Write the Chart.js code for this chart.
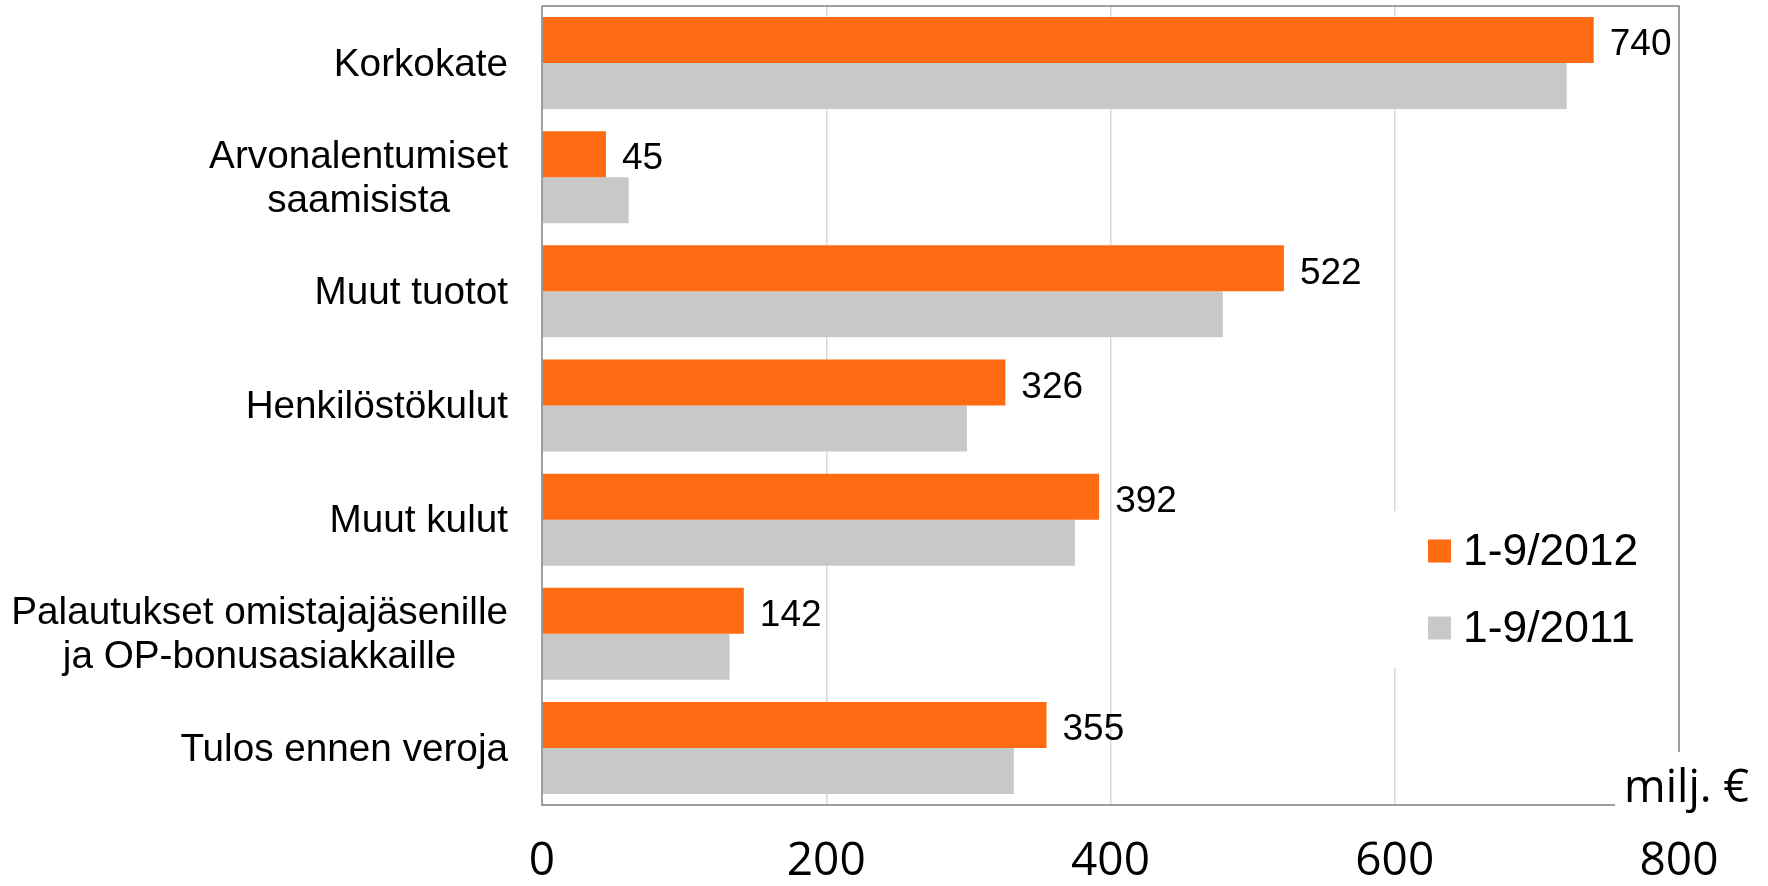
<!DOCTYPE html>
<html>
<head>
<meta charset="utf-8">
<script src="https://cdn.jsdelivr.net/npm/chart.js@4/dist/chart.umd.min.js"></script>
<style>
  html, body { margin: 0; padding: 0; background: #fff; }
</style>
</head>
<body>
<canvas id="bar-chart" width="1768" height="886"></canvas>
<script>
var categories = [
    ['Korkokate'],
    ['Arvonalentumiset', 'saamisista'],
    ['Muut tuotot'],
    ['Henkilöstökulut'],
    ['Muut kulut'],
    ['Palautukset omistajajäsenille', 'ja OP-bonusasiakkaille'],
    ['Tulos ennen veroja']
];
var values2012 = [740, 45, 522, 326, 392, 142, 355];
var values2011 = [721, 61, 479, 299, 375, 132, 332];
var seriesLabels = ['1-9/2012', '1-9/2011'];
var xTicks = [0, 200, 400, 600, 800];
var unitLabel = 'milj. €';

var FONT = '"Liberation Sans", Arial, sans-serif';

// category labels, value labels, legend and the partly hidden frame
var decor = {
    id: 'decor',
    afterDatasetsDraw: function (chart) {
        var ctx = chart.ctx;
        var area = chart.chartArea;
        var y = chart.scales.y;
        ctx.save();

        // frame
        ctx.strokeStyle = '#808080';
        ctx.lineWidth = 1.5;
        ctx.beginPath();
        ctx.moveTo(area.left, area.top);
        ctx.lineTo(area.left, area.bottom);
        ctx.lineTo(1615, area.bottom);
        ctx.moveTo(area.left, area.top);
        ctx.lineTo(area.right, area.top);
        ctx.lineTo(area.right, 752);
        ctx.stroke();

        // category labels, centered lines, block right-aligned
        ctx.fillStyle = '#000';
        ctx.font = '38.7px ' + FONT;
        ctx.textBaseline = 'middle';
        ctx.textAlign = 'center';
        categories.forEach(function (lines, i) {
            var cy = y.getPixelForValue(i) + 2;
            var w = 0;
            lines.forEach(function (l) { w = Math.max(w, ctx.measureText(l).width); });
            var cx = 508 - w / 2;
            var lh = 44;
            lines.forEach(function (l, k) {
                ctx.fillText(l, cx, cy + (k - (lines.length - 1) / 2) * lh);
            });
        });

        // value labels for 2012
        ctx.font = '37px ' + FONT;
        ctx.textAlign = 'left';
        var meta = chart.getDatasetMeta(0);
        meta.data.forEach(function (bar, i) {
            ctx.fillText(String(values2012[i]), bar.x + 16, bar.y + 5);
        });

        // legend
        ctx.fillStyle = '#fff';
        ctx.fillRect(1380, 511, 290, 157);
        ctx.font = '44.4px ' + FONT;
        chart.data.datasets.forEach(function (ds, i) {
            var cy = 551 + i * 77;
            ctx.fillStyle = ds.backgroundColor;
            ctx.fillRect(1428, cy - 11.5, 23, 23);
            ctx.fillStyle = '#000';
            ctx.fillText(ds.label, 1463, cy + 2);
        });

        // unit label
        ctx.fillStyle = '#fff';
        ctx.fillRect(1616, 753, 152, 62);
        ctx.fillStyle = '#000';
        ctx.font = '45px "Open Sans", sans-serif';
        ctx.textBaseline = 'alphabetic';
        ctx.fillText(unitLabel, 1624, 802);

        ctx.restore();
    }
};

new Chart(document.getElementById('bar-chart'), {
    type: 'bar',
    data: {
        labels: categories,
        datasets: [
            {
                label: seriesLabels[0],
                backgroundColor: '#FF6B12',
                data: values2012,
                categoryPercentage: 0.806,
                barPercentage: 1
            },
            {
                label: seriesLabels[1],
                backgroundColor: '#C8C8C8',
                data: values2011,
                categoryPercentage: 0.806,
                barPercentage: 1
            }
        ]
    },
    options: {
        indexAxis: 'y',
        responsive: false,
        animation: false,
        layout: { padding: { top: 6, right: 89, left: 0, bottom: 0 } },
        plugins: {
            legend: { display: false },
            tooltip: { enabled: false }
        },
        scales: {
            x: {
                min: 0,
                max: 800,
                afterBuildTicks: function (scale) {
                    scale.ticks = xTicks.map(function (v) { return { value: v }; });
                },
                afterFit: function (scale) { scale.height = 81; },
                border: { display: false },
                grid: {
                    drawTicks: false,
                    color: function (c) {
                        return (c.tick && (c.tick.value === 0 || c.tick.value === 800)) ? 'rgba(0,0,0,0)' : '#D9D9D9';
                    },
                    lineWidth: 1.5
                },
                ticks: {
                    color: '#000',
                    font: { family: '"Open Sans", sans-serif', size: 46, lineHeight: 1 },
                    padding: 34,
                    maxRotation: 0,
                    autoSkip: false
                }
            },
            y: {
                afterFit: function (scale) { scale.width = 542; },
                border: { display: false },
                grid: { display: false, drawTicks: false },
                ticks: { display: false }
            }
        }
    },
    plugins: [decor]
});
</script>
</body>
</html>
